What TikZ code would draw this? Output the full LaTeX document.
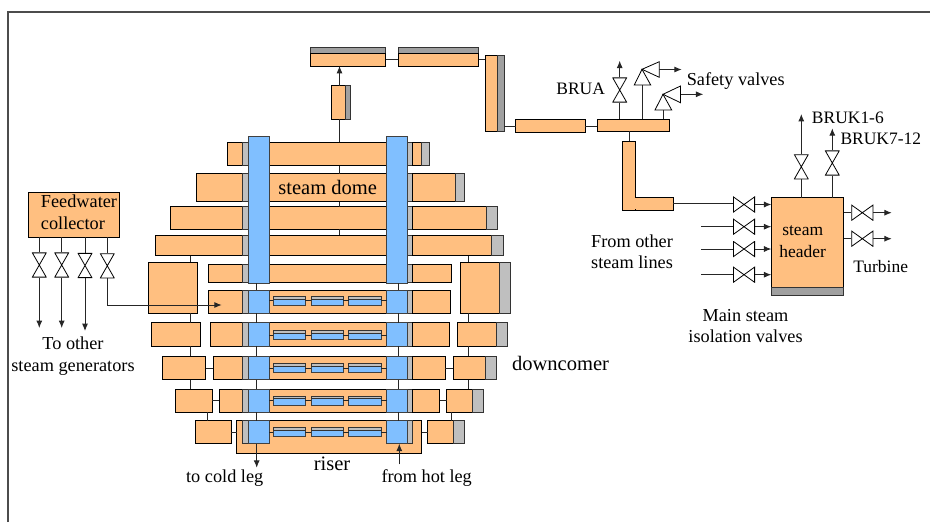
\documentclass[tikz,border=0pt]{standalone}
\usepackage{xcolor}
\usepackage{fontspec}
\setmainfont{Liberation Serif}
\usepackage{tikz}
\usetikzlibrary{arrows.meta}
\definecolor{drumorange}{RGB}{255,191,128}
\definecolor{tubeblue}{RGB}{128,191,255}
\definecolor{capgrey}{RGB}{191,191,191}
\definecolor{darkcap}{RGB}{160,160,160}
\tikzset{
    orangeblock/.style={draw=black, line width=0.7pt, fill=drumorange, inner sep=0pt, outer sep=0pt},
    blueblock/.style={orangeblock, draw=black!75, fill=tubeblue},
    greyblock/.style={orangeblock, draw=black!80, fill=capgrey},
    darkblock/.style={orangeblock, draw=black!80, fill=darkcap},
    pipe/.style={draw=black!85, line width=0.7pt},
    tip/.style={-{Latex[length=5.5pt,width=4.5pt]}},
    vvalve/.style={inner sep=0pt, outer sep=0pt, minimum width=11pt, minimum height=18.8pt, fill=white,
        path picture={\draw[line width=0.6pt] ([shift={(.3pt,-.3pt)}]path picture bounding box.north west)
            -- ([shift={(-.3pt,.3pt)}]path picture bounding box.south east)
            -- ([shift={(.3pt,.3pt)}]path picture bounding box.south west)
            -- ([shift={(-.3pt,-.3pt)}]path picture bounding box.north east) -- cycle;}},
    hvalve/.style={inner sep=0pt, outer sep=0pt, minimum width=16.5pt, minimum height=12pt, fill=white,
        path picture={\draw[line width=0.6pt] ([shift={(.3pt,-.3pt)}]path picture bounding box.north west)
            -- ([shift={(-.3pt,.3pt)}]path picture bounding box.south east)
            -- ([shift={(-.3pt,-.3pt)}]path picture bounding box.north east)
            -- ([shift={(.3pt,.3pt)}]path picture bounding box.south west) -- cycle;}},
    lbl/.style={inner sep=0pt, align=center, font=\fontsize{13.7}{16}\selectfont},
    tightlbl/.style={inner sep=0pt, align=center, font=\fontsize{13.1}{16}\selectfont},
    biglbl/.style={inner sep=0pt, align=center, font=\fontsize{15.4}{18}\selectfont}
}
% style, name, x1, y1, x2, y2 in pixels of the page
\newcommand{\blk}[6]{%
    \pgfmathsetmacro{\blkw}{(#5-#3)*0.75}%
    \pgfmathsetmacro{\blkh}{(#6-#4)*0.75}%
    \node[#1, minimum width=\blkw pt, minimum height=\blkh pt, anchor=north west] (#2) at (#3,#4) {};%
}
% number, left end, top, bottom, right end
\newcommand{\drumrow}[5]{%
    \blk{orangeblock}{ol#1}{#2}{#3}{242.7}{#4}%
    \blk{greyblock}{gl#1}{242.7}{#3}{248.3}{#4}%
    \blk{orangeblock}{cn#1}{269}{#3}{386.7}{#4}%
    \blk{greyblock}{gr#1}{407}{#3}{412.7}{#4}%
    \blk{orangeblock}{or#1}{412.7}{#3}{#5}{#4}%
}
% number, top, bottom
\newcommand{\bluerow}[3]{%
    \blk{blueblock}{bl#1}{248.3}{#2}{269}{#3}%
    \blk{blueblock}{br#1}{386.7}{#2}{407}{#3}%
}
% number, top of the tubes
\newcommand{\tuberow}[2]{%
    \pgfmathsetmacro{\tubemid}{#2+2.8}%
    \pgfmathsetmacro{\tubeend}{#2+9}%
    \blk{blueblock}{ta#1}{273}{#2}{305.3}{\tubeend}%
    \blk{blueblock}{tb#1}{311.3}{#2}{343.3}{\tubeend}%
    \blk{blueblock}{tc#1}{348.7}{#2}{381.3}{\tubeend}%
    \blk{greyblock}{sa#1}{273}{#2}{305.3}{\tubemid}%
    \blk{greyblock}{sb#1}{311.3}{#2}{343.3}{\tubemid}%
    \blk{greyblock}{sc#1}{348.7}{#2}{381.3}{\tubemid}%
    \draw[pipe] (bl#1.east |- ta#1.west) -- (ta#1.west);%
    \draw[pipe] (ta#1.east) -- (tb#1.west);%
    \draw[pipe] (tb#1.east) -- (tc#1.west);%
    \draw[pipe] (tc#1.east) -- (br#1.west |- tc#1.east);%
}

\begin{document}
\begin{tikzpicture}[x=0.75pt, y=-0.75pt]
    \useasboundingbox (0,0) rectangle (930,522);

    % page frame
    \coordinate (frameA) at (8,522);
    \coordinate (frameB) at (8,12);
    \coordinate (frameC) at (930,12);
    \draw[draw=black!70, line width=0.8pt] (frameA) -- (frameB) -- (frameC);

    % drums above the water line
    \drumrow{1}{227.3}{142.3}{165.7}{421}
    \drumrow{2}{196}{173.7}{201.7}{455.3}
    \drumrow{3}{170.3}{206.7}{229}{486.3}
    \drumrow{4}{155.3}{235.3}{255.7}{491.7}
    \drumrow{5}{208.7}{264.7}{282.7}{451.3}
    \blk{greyblock}{cap1}{421}{142.3}{429.7}{165.7}
    \blk{greyblock}{cap2}{455.3}{173.7}{464.3}{201.7}
    \blk{greyblock}{cap3}{486.3}{206.7}{497.3}{229}
    \blk{greyblock}{cap4}{491.7}{235.3}{503}{255.7}
    \blk{blueblock}{colL}{248.3}{136.7}{269}{283.3}
    \blk{blueblock}{colR}{386.7}{136.7}{407}{283.3}

    % drums with the tube bundles
    \drumrow{6}{208}{290}{313.3}{450.3}
    \drumrow{7}{210.7}{322.7}{346.3}{449.3}
    \drumrow{8}{213.3}{356.3}{379.7}{445}
    \drumrow{9}{219.3}{389}{412.3}{439.7}
    \blk{orangeblock}{riser}{236.7}{420.7}{421.7}{453.3}
    \blk{greyblock}{gl10}{242.7}{420.7}{248.3}{443.7}
    \blk{greyblock}{gr10}{407}{420.7}{412.7}{443.7}
    \bluerow{6}{290}{313.3}
    \bluerow{7}{322.7}{346.3}
    \bluerow{8}{356.3}{379.7}
    \bluerow{9}{389}{412.3}
    \bluerow{10}{420.7}{443.7}
    \tuberow{6}{296.3}
    \tuberow{7}{330.7}
    \tuberow{8}{363.7}
    \tuberow{9}{396}
    \tuberow{10}{427.7}

    % downcomer blocks
    \blk{orangeblock}{loB}{148.3}{262.3}{197.7}{313.3}
    \blk{orangeblock}{lo7}{151.3}{322.7}{200.3}{346.3}
    \blk{orangeblock}{lo8}{162}{356.3}{205.7}{379.7}
    \blk{orangeblock}{lo9}{175.3}{389}{212.3}{412.3}
    \blk{orangeblock}{lo10}{195}{420.7}{231.3}{443.7}
    \blk{orangeblock}{roB}{460.3}{262.3}{499.7}{313.3}
    \blk{greyblock}{rcB}{499.7}{262.3}{510.3}{313.3}
    \blk{orangeblock}{ro7}{457.7}{322.7}{496.7}{346.3}
    \blk{greyblock}{rc7}{496.7}{322.7}{507.3}{346.3}
    \blk{orangeblock}{ro8}{453.3}{356.3}{485.3}{379.7}
    \blk{greyblock}{rc8}{485.3}{356.3}{496.7}{379.7}
    \blk{orangeblock}{ro9}{446.7}{389}{472}{412.3}
    \blk{greyblock}{rc9}{472}{389}{483}{412.3}
    \blk{orangeblock}{ro10}{427.7}{420.7}{453.3}{443.7}
    \blk{greyblock}{rc10}{453.3}{420.7}{464.3}{443.7}

    % steam line
    \blk{orangeblock}{stub}{331.7}{85.7}{345}{119.3}
    \blk{darkblock}{stubcap}{345}{85.7}{350.7}{119.3}
    \blk{darkblock}{topcapA}{310.3}{47.3}{385.7}{53.7}
    \blk{orangeblock}{topA}{310.3}{53.7}{385.7}{66}
    \blk{darkblock}{topcapB}{398.3}{47.3}{478.7}{53.7}
    \blk{orangeblock}{topB}{398.3}{53.7}{478.7}{66}
    \blk{orangeblock}{drop}{485.3}{55.3}{497.3}{131.3}
    \blk{darkblock}{dropcap}{497.3}{55.3}{504.3}{131.3}
    \blk{orangeblock}{run}{515.7}{119.7}{585.3}{132.3}
    \blk{orangeblock}{manifold}{597}{119.3}{669.3}{131.3}
    \blk{orangeblock}{legV}{622.7}{141.3}{635.7}{210}
    \blk{orangeblock}{legH}{635.7}{197.7}{673.3}{210}
    \fill[drumorange] (634.9,198.3) rectangle (636.5,209.4);
    \blk{orangeblock}{hdr}{771.3}{197.7}{843.7}{287.3}
    \blk{darkblock}{hdrcap}{771.3}{287.3}{843.7}{295}
    \blk{orangeblock}{feed}{28.3}{192.7}{119.3}{237.3}

    % valves
    \node[vvalve] (fv1) at (39.3,265) {};
    \node[vvalve] (fv2) at (61.7,265) {};
    \node[vvalve] (fv3) at (85,265.5) {};
    \node[vvalve] (fv4) at (107.3,265.8) {};
    \node[vvalve] (brua) at (619.7,90) {};
    \node[vvalve] (bk1) at (801.3,166.8) {};
    \node[vvalve] (bk2) at (832.3,163) {};
    \node[hvalve] (mv1) at (744,204.5) {};
    \node[hvalve] (mv2) at (744,226.7) {};
    \node[hvalve] (mv3) at (744,249) {};
    \node[hvalve] (mv4) at (744,274.7) {};
    \node[hvalve] (tv1) at (862.3,212.7) {};
    \node[hvalve] (tv2) at (862.3,238.7) {};

    % safety valves
    \coordinate (sv1) at (642,69.3);
    \coordinate (sb1) at (642,85);
    \coordinate (sa1) at (659.3,69.5);
    \coordinate (se1) at (681.7,69.5);
    \coordinate (sv2) at (663,94.3);
    \coordinate (sb2) at (663,110);
    \coordinate (sa2) at (680.5,94.3);
    \coordinate (se2) at (703.3,94.3);
    \draw[line width=0.6pt] (sv1) -- (sb1 -| 634.3,0) -- (sb1 -| 650.7,0) -- cycle;
    \draw[line width=0.6pt] (sv1) -- (659.3,61.7) -- (659.3,77.3) -- cycle;
    \draw[line width=0.6pt] (sv2) -- (sb2 -| 655,0) -- (sb2 -| 671.7,0) -- cycle;
    \draw[line width=0.6pt] (sv2) -- (680.5,86) -- (680.5,102.7) -- cycle;

    % links between the drums
    \coordinate (domex) at (339.5,0);
    \coordinate (blx) at (256,0);
    \coordinate (brx) at (398,0);
    \coordinate (lox) at (190.7,0);
    \coordinate (lox2) at (207.3,0);
    \coordinate (rox) at (468.3,0);
    \coordinate (rox2) at (451.7,0);
    \draw[pipe] (domex |- cn1.south) -- (domex |- cn2.north);
    \draw[pipe] (domex |- cn2.south) -- (domex |- cn3.north);
    \draw[pipe] (domex |- cn3.south) -- (domex |- cn4.north);
    \draw[pipe] (blx |- colL.south) -- (blx |- bl6.north);
    \draw[pipe] (blx |- bl6.south) -- (blx |- bl7.north);
    \draw[pipe] (blx |- bl7.south) -- (blx |- bl8.north);
    \draw[pipe] (blx |- bl8.south) -- (blx |- bl9.north);
    \draw[pipe] (blx |- bl9.south) -- (blx |- bl10.north);
    \draw[pipe] (brx |- colR.south) -- (brx |- br6.north);
    \draw[pipe] (brx |- br6.south) -- (brx |- br7.north);
    \draw[pipe] (brx |- br7.south) -- (brx |- br8.north);
    \draw[pipe] (brx |- br8.south) -- (brx |- br9.north);
    \draw[pipe] (brx |- br9.south) -- (brx |- br10.north);
    \draw[pipe] (lox |- ol4.south) -- (lox |- loB.north);
    \draw[pipe] (lox |- loB.south) -- (lox |- lo7.north);
    \draw[pipe] (lox |- lo7.south) -- (lox |- lo8.north);
    \draw[pipe] (lox |- lo8.south) -- (lox |- lo9.north);
    \draw[pipe] (lox2 |- lo9.south) -- (lox2 |- lo10.north);
    \draw[pipe] (rox |- or4.south) -- (rox |- roB.north);
    \draw[pipe] (rox |- roB.south) -- (rox |- ro7.north);
    \draw[pipe] (rox |- ro7.south) -- (rox |- ro8.north);
    \draw[pipe] (rox |- ro8.south) -- (rox |- ro9.north);
    \draw[pipe] (rox2 |- ro9.south) -- (rox2 |- ro10.north);
    \draw[pipe] (lo8.east) -- (ol8.west);
    \draw[pipe] (lo9.east) -- (ol9.west);
    \draw[pipe] (lo10.east) -- (lo10.east -| riser.west);
    \draw[pipe] (or8.east) -- (ro8.west);
    \draw[pipe] (or9.east) -- (ro9.west);
    \draw[pipe] (ro10.west -| riser.east) -- (ro10.west);

    % legs
    \coordinate (coldend) at (256.7,467.7);
    \coordinate (hotend) at (399.3,464.3);
    \draw[pipe, tip] (coldend |- bl10.south) -- (coldend);
    \draw[pipe, tip] (hotend) -- (hotend |- br10.south);

    % steam line links
    \draw[pipe] (domex |- cn1.north) -- (domex |- stub.south);
    \draw[pipe, tip] (domex |- stub.north) -- (domex |- topA.south);
    \draw[pipe] (topA.east) -- (topB.west);
    \draw[pipe] (topB.east) -- (topB.east -| drop.west);
    \draw[pipe] (run.west -| dropcap.east) -- (run.west);
    \draw[pipe] (run.east) -- (run.east -| manifold.west);
    \coordinate (legx) at (629.3,0);
    \draw[pipe] (legx |- manifold.south) -- (legx |- legV.north);
    \draw[pipe] (brua.south) -- (brua.south |- manifold.north);
    \coordinate (bruaend) at (619.7,60.7);
    \draw[pipe, tip] (brua.north) -- (bruaend);
    \draw[pipe] (sb1) -- (sb1 |- manifold.north);
    \draw[pipe] (sb2) -- (sb2 |- manifold.north);
    \draw[pipe, tip] (sa1) -- (se1);
    \draw[pipe, tip] (sa2) -- (se2);

    % isolation valves and header
    \coordinate (ms2) at (701,226.7);
    \coordinate (ms3) at (701,249);
    \coordinate (ms4) at (701,274.7);
    \draw[pipe] (legH.east) -- (legH.east -| mv1.west);
    \draw[pipe] (ms2) -- (mv2.west);
    \draw[pipe] (ms3) -- (mv3.west);
    \draw[pipe] (ms4) -- (mv4.west);
    \draw[pipe, tip] (mv1.east) -- (mv1.east -| hdr.west);
    \draw[pipe, tip] (mv2.east) -- (mv2.east -| hdr.west);
    \draw[pipe, tip] (mv3.east) -- (mv3.east -| hdr.west);
    \draw[pipe, tip] (mv4.east) -- (mv4.east -| hdr.west);
    \coordinate (be1) at (801.3,114);
    \coordinate (be2) at (832.3,128.3);
    \draw[pipe] (bk1.south) -- (bk1.south |- hdr.north);
    \draw[pipe] (bk2.south) -- (bk2.south |- hdr.north);
    \draw[pipe, tip] (bk1.north) -- (be1);
    \draw[pipe, tip] (bk2.north) -- (be2);
    \coordinate (te1) at (891.7,212.7);
    \coordinate (te2) at (891.7,238.7);
    \draw[pipe] (tv1.west -| hdr.east) -- (tv1.west);
    \draw[pipe] (tv2.west -| hdr.east) -- (tv2.west);
    \draw[pipe, tip] (tv1.east) -- (te1);
    \draw[pipe, tip] (tv2.east) -- (te2);

    % feedwater
    \coordinate (fe1) at (39.3,328);
    \coordinate (fe2) at (61.7,328);
    \coordinate (fe3) at (85,331);
    \coordinate (feedend) at (221.7,305);
    \draw[pipe] (fv1 |- feed.south) -- (fv1.north);
    \draw[pipe] (fv2 |- feed.south) -- (fv2.north);
    \draw[pipe] (fv3 |- feed.south) -- (fv3.north);
    \draw[pipe] (fv4 |- feed.south) -- (fv4.north);
    \draw[pipe, tip] (fv1.south) -- (fe1);
    \draw[pipe, tip] (fv2.south) -- (fe2);
    \draw[pipe, tip] (fv3.south) -- (fe3);
    \draw[pipe, tip] (fv4.south) |- (feedend);

    % labels
    \node[biglbl] (domelbl) at (327.7,187.7) {steam dome};
    \node[biglbl] (riserlbl) at (332,464) {riser};
    \node[biglbl] (downlbl) at (560.5,363) {downcomer};
    \node[lbl] (coldlbl) at (224.7,478.5) {to cold leg};
    \node[lbl] (hotlbl) at (426.7,478.5) {from hot leg};
    \node[lbl, align=left, anchor=west] (feedlbl) at (40.7,212.3) {Feedwater\\collector};
    \node[lbl] (genlbl) at (73,356) {To other\\steam generators};
    \node[tightlbl] (bruatxt) at (580.7,88.7) {BRUA};
    \node[lbl, anchor=west] (safetxt) at (686.5,81) {Safety valves};
    \node[tightlbl, anchor=west] (bk1txt) at (811.7,117.3) {BRUK1-6};
    \node[tightlbl, anchor=west] (bk2txt) at (840.3,138.3) {BRUK7-12};
    \node[tightlbl] (hdrtxt) at (802.7,241.5) {steam\\header};
    \node[tightlbl] (turbtxt) at (880.7,266.7) {Turbine};
    \node[lbl] (fromtxt) at (632,252) {From other\\steam lines};
    \node[lbl] (msivtxt) at (745.5,326) {Main steam\\isolation valves};
\end{tikzpicture}
\end{document}
